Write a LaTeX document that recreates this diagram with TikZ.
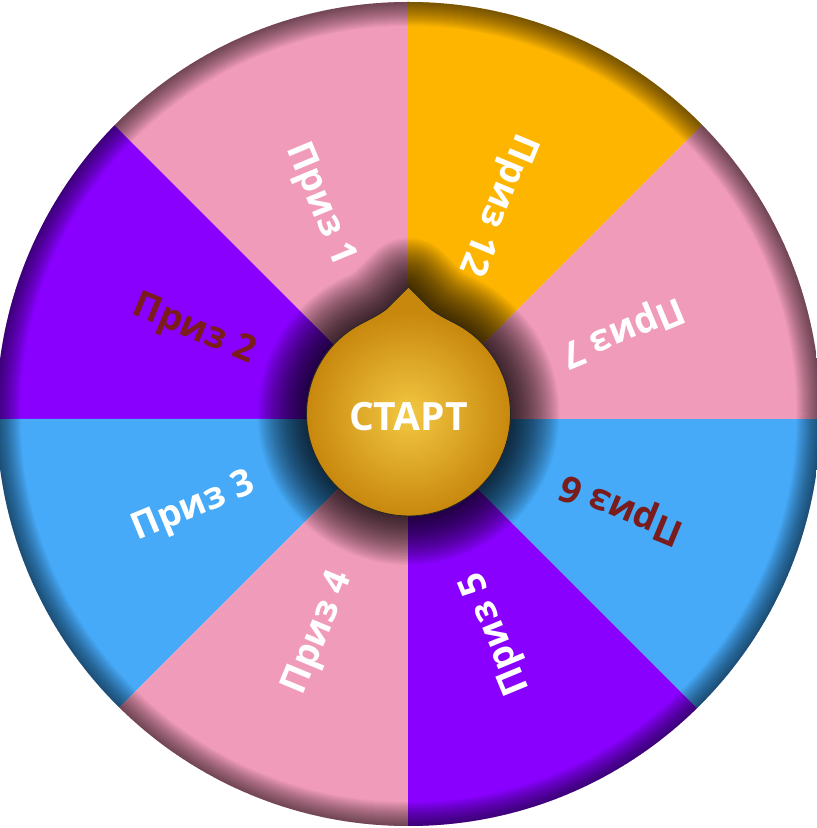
\documentclass[tikz,border=0pt]{standalone}
\usepackage{fontspec}
\setmainfont{Open Sans}
\usetikzlibrary{calc}
\definecolor{wpink}{RGB}{240,155,185}
\definecolor{worange}{RGB}{253,181,0}
\definecolor{wpurple}{RGB}{137,0,255}
\definecolor{wblue}{RGB}{70,170,248}
\definecolor{wdark}{RGB}{122,28,28}
\definecolor{goldin}{RGB}{243,200,66}
\definecolor{goldout}{RGB}{200,136,14}
\newcommand\droppath{($(C)+(0,127)$) -- ($(C)+(-22,105)$)
  .. controls ($(C)+(-30,99)$) and ($(C)+(-37,95.7)$) .. ($(C)+(118:102)$)
  arc[start angle=118, end angle=422, radius=102]
  .. controls ($(C)+(37,95.7)$) and ($(C)+(30,99)$) .. ($(C)+(22,105)$) -- cycle}
\begin{document}
\begin{tikzpicture}[x=1pt,y=1pt,
  prize/.style={font=\fontsize{37}{37}\selectfont\bfseries, inner sep=0pt},
  starttext/.style={font=\fontsize{39}{39}\selectfont\bfseries, text=white, inner sep=0pt}]
\useasboundingbox (0,0) rectangle (817,828);
\coordinate (C) at (408.5,414);
\coordinate (S) at (408,409);
\def\R{412}
\begin{scope}
  \clip (C) circle (\R);
  \foreach \a/\c in {90/wpink,135/wpurple,180/wblue,225/wpink,270/wpurple,315/wblue,0/wpink,45/worange}
    \fill[\c] (S) -- ++(\a:\R+30) arc[start angle=\a, delta angle=45, radius=\R+30] -- cycle;
  % outer rim shadow
  \foreach \i in {0,...,24}
    \fill[black, opacity=0.028, even odd rule] (C) circle (\R+2) (C) circle (\R-\i);
  % central drop shadow
  \foreach \w in {2,5,...,98}
    \draw[black, opacity=0.034, line width=\w, line join=round] \droppath;
\end{scope}
% prize labels
\foreach \m/\t/\c [count=\k] in {112.5/Приз 1/white,157.5/Приз 2/wdark,202.5/Приз 3/white,247.5/Приз 4/white,292.5/Приз 5/white,337.5/Приз 6/wdark,22.5/Приз 7/white,67.5/Приз 12/white}
  \node[prize, text=\c, rotate=\m+180] (p\k) at ($(S)+(\m:232)$) {\t};
% start button
\fill[goldout] \droppath;
\shade[inner color=goldin, outer color=goldout] (C) circle (101.5);
\draw[black!85, line width=0.9] \droppath;
\node[starttext] (start) at ($(C)+(0,-3)$) {СТАРТ};
\end{tikzpicture}
\end{document}
